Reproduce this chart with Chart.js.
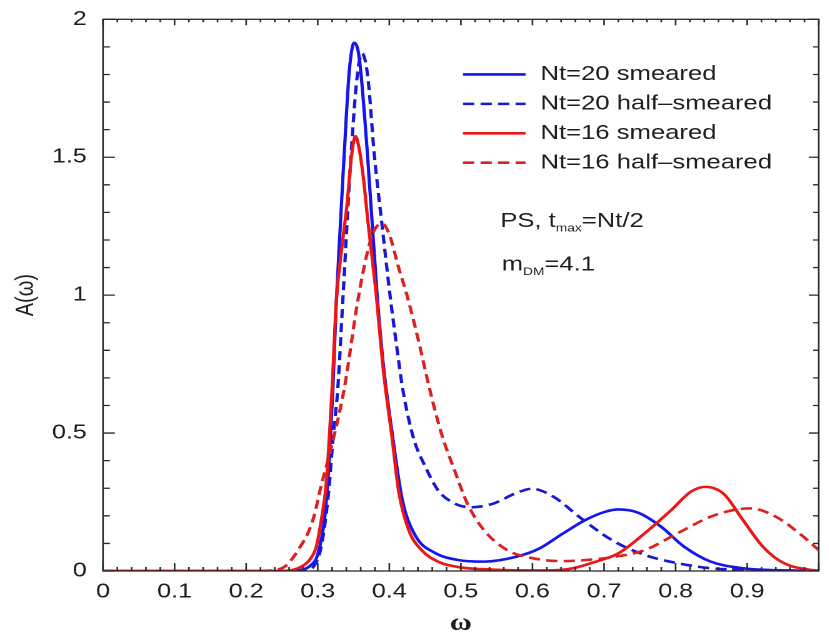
<!DOCTYPE html>
<html>
<head>
<meta charset="utf-8">
<script src="https://cdn.jsdelivr.net/npm/chart.js@4.4.1/dist/chart.umd.min.js"></script>
<style>
  html, body { margin: 0; padding: 0; background: #fff; overflow: hidden; }
  /* the figure is laid out narrow and stretched sideways, like the printed plot */
  #wrap { width: 664px; height: 632px; transform: scaleX(1.25); transform-origin: 0 0; }
</style>
</head>
<body>
<div id="wrap"><canvas id="specChart" width="664" height="632"></canvas></div>
<script>
// Nt=20, smeared source
const omegaNt20Sm = [0, 0.1, 0.2, 0.26, 0.275, 0.29, 0.30, 0.31, 0.316, 0.321, 0.326, 0.337, 0.344, 0.351, 0.358, 0.3695, 0.383, 0.392, 0.404, 0.418, 0.436, 0.4635, 0.496, 0.532, 0.578, 0.61, 0.642, 0.674, 0.702, 0.72, 0.748, 0.78, 0.812, 0.849, 0.894, 0.94, 1.0];
const specNt20Sm = [0, 0, 0, 0, 0.003, 0.02, 0.06, 0.2, 0.4, 0.65, 0.98, 1.51, 1.81, 1.915, 1.86, 1.51, 1.0, 0.74, 0.5, 0.26, 0.13, 0.066, 0.04, 0.034, 0.052, 0.082, 0.135, 0.185, 0.215, 0.223, 0.211, 0.16, 0.088, 0.034, 0.01, 0.003, 0];

// Nt=20, half-smeared
const omegaNt20Half = [0, 0.1, 0.2, 0.27, 0.285, 0.294, 0.305, 0.315, 0.322, 0.328, 0.335, 0.3466, 0.355, 0.362, 0.37, 0.379, 0.39, 0.401, 0.41, 0.419, 0.434, 0.45, 0.468, 0.491, 0.514, 0.546, 0.575, 0.599, 0.629, 0.665, 0.711, 0.757, 0.803, 0.849, 0.9, 0.95, 1.0];
const specNt20Half = [0, 0, 0, 0, 0.004, 0.015, 0.09, 0.28, 0.5, 0.66, 0.98, 1.51, 1.79, 1.876, 1.79, 1.51, 1.25, 1.0, 0.82, 0.656, 0.48, 0.38, 0.293, 0.245, 0.231, 0.245, 0.28, 0.298, 0.27, 0.197, 0.112, 0.058, 0.028, 0.01, 0.004, 0.002, 0];

// Nt=16, smeared source
const omegaNt16Sm = [0, 0.1, 0.2, 0.25, 0.265, 0.28, 0.29, 0.298, 0.305, 0.312, 0.32, 0.326, 0.335, 0.341, 0.347, 0.3527, 0.358, 0.364, 0.37, 0.381, 0.392, 0.404, 0.413, 0.427, 0.445, 0.468, 0.50, 0.546, 0.6, 0.64, 0.66, 0.684, 0.72, 0.757, 0.794, 0.821, 0.842, 0.867, 0.894, 0.922, 0.95, 0.986, 1.0];
const specNt16Sm = [0, 0, 0, 0, 0.004, 0.02, 0.045, 0.088, 0.185, 0.32, 0.66, 0.98, 1.2, 1.33, 1.5, 1.576, 1.53, 1.42, 1.27, 1.02, 0.72, 0.48, 0.29, 0.149, 0.076, 0.034, 0.013, 0.005, 0.002, 0.004, 0.012, 0.03, 0.064, 0.137, 0.221, 0.287, 0.305, 0.28, 0.185, 0.088, 0.03, 0.005, 0.002];

// Nt=16, half-smeared
const omegaNt16Half = [0, 0.1, 0.2, 0.24, 0.255, 0.266, 0.276, 0.285, 0.295, 0.303, 0.32, 0.337, 0.356, 0.368, 0.378, 0.39, 0.40, 0.413, 0.4246, 0.4406, 0.4567, 0.4727, 0.491, 0.509, 0.532, 0.5646, 0.601, 0.6424, 0.665, 0.711, 0.757, 0.803, 0.849, 0.885, 0.905, 0.94, 0.9725, 1.0];
const specNt16Half = [0, 0, 0, 0.003, 0.018, 0.05, 0.09, 0.13, 0.2, 0.29, 0.46, 0.66, 0.98, 1.14, 1.23, 1.26, 1.22, 1.1, 1.0, 0.837, 0.656, 0.499, 0.366, 0.245, 0.149, 0.076, 0.046, 0.036, 0.038, 0.05, 0.076, 0.137, 0.197, 0.223, 0.227, 0.197, 0.137, 0.076];

const xTickLabels = ['0', '0.1', '0.2', '0.3', '0.4', '0.5', '0.6', '0.7', '0.8', '0.9'];
const yTickLabels = ['0', '0.5', '1', '1.5', '2'];

const labelFont = 'Liberation Sans, Arial, sans-serif';

function toPoints(xs, ys) {
    return xs.map((x, i) => ({ x: x, y: ys[i] }));
}

// box with inward major/minor ticks on all four sides
const frameTicks = {
    id: 'frameTicks',
    afterDatasetsDraw(chart) {
        const { ctx, chartArea: a, scales: { x, y } } = chart;
        ctx.save();
        ctx.strokeStyle = '#2a2a2a';
        ctx.lineWidth = 1.3;
        ctx.strokeRect(a.left, a.top, a.right - a.left, a.bottom - a.top);
        ctx.beginPath();
        for (let i = 0; i <= 50; i++) {
            const px = x.getPixelForValue(i * 0.02);
            const major = i % 5 === 0;
            ctx.moveTo(px, a.bottom); ctx.lineTo(px, a.bottom - (major ? 8 : 4));
            ctx.moveTo(px, a.top); ctx.lineTo(px, a.top + (major ? 6 : 3));
        }
        for (let i = 0; i <= 20; i++) {
            const py = y.getPixelForValue(i * 0.1);
            const major = i % 5 === 0;
            ctx.moveTo(a.left, py); ctx.lineTo(a.left + (major ? 9.5 : 5.5), py);
            ctx.moveTo(a.right, py); ctx.lineTo(a.right - (major ? 8 : 4.5), py);
        }
        ctx.stroke();
        ctx.restore();
    }
};

// legend lines and the run parameters, written inside the plot
const plotNotes = {
    id: 'plotNotes',
    afterDraw(chart) {
        const { ctx, scales: { x, y } } = chart;
        const lx = x.getPixelForValue(0.503);
        const ly = y.getPixelForValue(1.80);
        ctx.save();
        ctx.font = '20.5px ' + labelFont;
        ctx.textBaseline = 'middle';
        ctx.fillStyle = '#1e1e1e';
        chart.data.datasets.forEach((ds, i) => {
            const rowY = ly + i * 29.4;
            ctx.strokeStyle = ds.borderColor;
            ctx.lineWidth = ds.borderWidth;
            ctx.setLineDash(ds.borderDash || []);
            ctx.beginPath();
            ctx.moveTo(lx, rowY);
            ctx.lineTo(lx + 50, rowY);
            ctx.stroke();
            ctx.fillText(ds.label, lx + 62, rowY);
        });
        ctx.setLineDash([]);

        // text with a small lowered part in the middle
        function withSub(parts, px, py) {
            let cx = px;
            parts.forEach(([txt, sub]) => {
                ctx.font = (sub ? '11px ' : '20.5px ') + labelFont;
                ctx.fillText(txt, cx, py + (sub ? 7 : 0));
                cx += ctx.measureText(txt).width;
            });
        }
        withSub([['PS, t', false], ['max', true], ['=Nt/2', false]], x.getPixelForValue(0.555), y.getPixelForValue(1.268));
        withSub([['m', false], ['DM', true], ['=4.1', false]], x.getPixelForValue(0.557), y.getPixelForValue(1.109));
        ctx.restore();
    }
};

let ctx = document.getElementById('specChart').getContext('2d');

let specChart = new Chart(ctx, {
    type: 'line',
    data: {
        datasets: [{
            label: 'Nt=20 smeared',
            data: toPoints(omegaNt20Sm, specNt20Sm),
            borderColor: 'rgb(22, 22, 236)',
            borderWidth: 2.6,
            order: 2
        }, {
            label: 'Nt=20 half\u2013smeared',
            data: toPoints(omegaNt20Half, specNt20Half),
            borderColor: 'rgb(24, 24, 214)',
            borderWidth: 2.6,
            borderDash: [9, 5],
            order: 2
        }, {
            label: 'Nt=16 smeared',
            data: toPoints(omegaNt16Sm, specNt16Sm),
            borderColor: 'rgb(236, 22, 22)',
            borderWidth: 2.6,
            order: 1
        }, {
            label: 'Nt=16 half\u2013smeared',
            data: toPoints(omegaNt16Half, specNt16Half),
            borderColor: 'rgb(218, 34, 34)',
            borderWidth: 2.6,
            borderDash: [9, 5],
            order: 1
        }]
    },
    options: {
        responsive: false,
        animation: false,
        devicePixelRatio: 2,
        layout: { padding: { top: 19.3, right: 1, left: 0, bottom: 0 } },
        elements: {
            point: { radius: 0 },
            line: { cubicInterpolationMode: 'monotone', fill: false }
        },
        plugins: {
            legend: { display: false },
            tooltip: { enabled: false }
        },
        scales: {
            x: {
                type: 'linear',
                min: 0,
                max: 1,
                grid: { display: false, drawTicks: false },
                border: { display: false },
                ticks: {
                    stepSize: 0.1,
                    padding: 9,
                    color: '#1e1e1e',
                    font: { family: labelFont, size: 20 },
                    maxRotation: 0,
                    callback: (v, i) => xTickLabels[i] ?? ''
                },
                title: {
                    display: true,
                    text: '\u03c9',
                    color: '#1e1e1e',
                    font: { family: 'Liberation Serif, serif', size: 24, weight: 'bold', lineHeight: 0.7 },
                    padding: 0
                },
                afterFit: (scale) => { scale.height = 61; }
            },
            y: {
                min: 0,
                max: 2,
                grid: { display: false, drawTicks: false },
                border: { display: false },
                ticks: {
                    stepSize: 0.5,
                    padding: 13,
                    color: '#1e1e1e',
                    font: { family: labelFont, size: 20 },
                    callback: (v, i) => yTickLabels[i] ?? ''
                },
                title: {
                    display: true,
                    text: 'A(\u03c9)',
                    color: '#1e1e1e',
                    font: { family: labelFont, size: 20 },
                    padding: { top: 9, bottom: 0 }
                },
                afterFit: (scale) => {
                    scale.width = 82.4;
                    // keep the top label's room from pushing the plot down
                    scale.paddingTop = 10;
                }
            }
        }
    },
    plugins: [frameTicks, plotNotes]
});
</script>
</body>
</html>
